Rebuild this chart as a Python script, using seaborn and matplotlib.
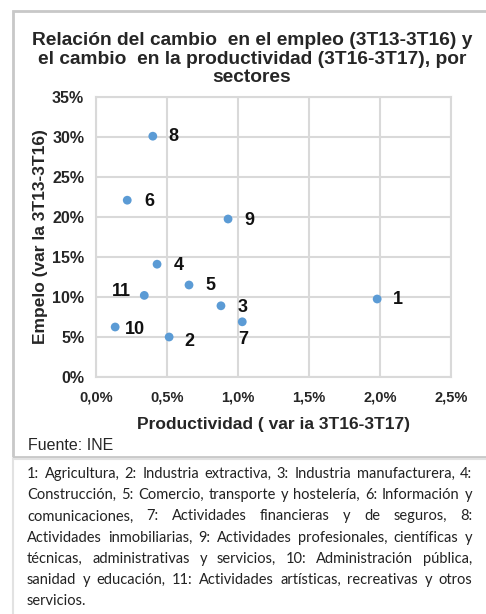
import matplotlib
matplotlib.use('Agg')
import matplotlib.pyplot as plt
import seaborn as sns
import pandas as pd
from matplotlib.ticker import FuncFormatter, MultipleLocator
from matplotlib.patches import Rectangle

# data (percent units)
sector = ['1', '2', '3', '4', '5', '6', '7', '8', '9', '10', '11']
productividad = [1.98, 0.515, 0.88, 0.43, 0.655, 0.22, 1.03, 0.40, 0.93, 0.135, 0.34]
empleo = [9.75, 5.0, 8.9, 14.1, 11.5, 22.1, 6.9, 30.1, 19.75, 6.25, 10.2]

# label offsets (points) for each sector number
label_offsets = {'1': (11, -0.5), '2': (11, -3), '3': (12, -1.5), '4': (12, -1), '5': (12, 0),
                 '6': (12, -1), '7': (-3, -13), '8': (11, 0), '9': (12, -1),
                 '10': (7, -1.5), '11': (-23, 3)}

footnote_lines = [
    "1: Agricultura, 2: Industria extractiva, 3: Industria manufacturera, 4:",
    "Construcción, 5: Comercio, transporte y hostelería, 6: Información y",
    "comunicaciones, 7: Actividades financieras y de seguros, 8:",
    "Actividades inmobiliarias, 9: Actividades profesionales, científicas y",
    "técnicas, administrativas y servicios, 10: Administración pública,",
    "sanidad y educación, 11: Actividades artísticas, recreativas y otros",
    "servicios.",
]

df = pd.DataFrame({'sector': sector, 'prod': productividad, 'emp': empleo})

sns.set_style("whitegrid", {'grid.color': '#d9d9d9', 'axes.edgecolor': '#d9d9d9'})
plt.rcParams['font.family'] = ['Liberation Sans', 'DejaVu Sans']

W, H = 486, 614
fig = plt.figure(figsize=(W / 100, H / 100), dpi=100)
ax = fig.add_axes([96 / W, (H - 377) / H, (451 - 96) / W, (377 - 97) / H])

sns.scatterplot(data=df, x='prod', y='emp', ax=ax, color='#5b9bd5', s=40,
                edgecolor='none', zorder=3)

for s, xv, yv in zip(sector, productividad, empleo):
    ax.annotate(s, (xv, yv), xytext=label_offsets[s], textcoords='offset points',
                fontsize=13, fontweight='bold', color='#111111', va='center', ha='left')

ax.set_xlim(0, 2.5)
ax.set_ylim(0, 35)
ax.xaxis.set_major_locator(MultipleLocator(0.5))
ax.yaxis.set_major_locator(MultipleLocator(5))
ax.xaxis.set_major_formatter(FuncFormatter(lambda v, p: f"{v:.1f}%".replace('.', ',')))
ax.yaxis.set_major_formatter(FuncFormatter(lambda v, p: f"{v:.0f}%"))
for lab in ax.get_xticklabels():
    lab.set_fontweight('bold')
    lab.set_fontsize(10.5)
for lab in ax.get_yticklabels():
    lab.set_fontweight('bold')
    lab.set_fontsize(11.5)
ax.tick_params(axis='x', pad=6)
ax.tick_params(axis='y', pad=5)
for sp in ax.spines.values():
    sp.set_linewidth(1.5)
ax.grid(linewidth=1.5)

ax.set_xlabel("Productividad ( var ia 3T16-3T17)", fontsize=12.5, fontweight='bold', labelpad=9)
ax.set_ylabel("Empelo (var la 3T13-3T16)", fontsize=12.5, fontweight='bold', labelpad=3)

fig.text(252 / W, 1 - 32 / H,
         "Relación del cambio  en el empleo (3T13-3T16) y\nel cambio  en la productividad (3T16-3T17), por\nsectores",
         ha='center', va='top', fontsize=13.8, fontweight='bold', linespacing=1.12)
fig.text(28 / W, 1 - 446 / H, "Fuente: INE", fontsize=11.5, va='center', ha='left')

# frames
fig.patches.append(Rectangle((12.5 / W, 1 - 457 / H), 1.0, (457 - 10.5) / H,
                             transform=fig.transFigure, fill=False, edgecolor='#c8c8c8', lw=2))
fig.patches.append(Rectangle((12.5 / W, -0.01), 1.0, (1 - 459 / H) + 0.01,
                             transform=fig.transFigure, fill=False, edgecolor='#e2e2e2', lw=1.5))

# justified footnote
renderer = fig.canvas.get_renderer()
left, right = 27, 472
y0, step = 478, 21.2
fkw = dict(fontsize=10.5, family=['Lato', 'DejaVu Sans'], color='#222222', va='baseline')
for i, line in enumerate(footnote_lines):
    y = 1 - (y0 + i * step) / H
    words = line.split(' ')
    if i == len(footnote_lines) - 1:
        fig.text(left / W, y, line, ha='left', **fkw)
        continue
    txts = [fig.text(0, y, w, ha='left', **fkw) for w in words]
    widths = [t.get_window_extent(renderer).width for t in txts]
    gap = (right - left - sum(widths)) / (len(words) - 1)
    x = left
    for t, wd in zip(txts, widths):
        t.set_x(x / W)
        x += wd + gap

fig.savefig('out.png', dpi=100)
